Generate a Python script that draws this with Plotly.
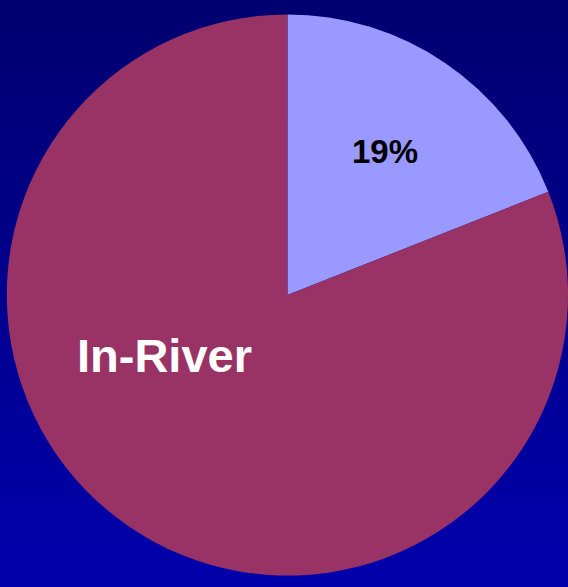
import plotly.graph_objects as go

# Data
slice_labels = ["Other", "In-River"]
slice_values = [19, 81]
slice_colors = ["#9999FF", "#993366"]

total = sum(slice_values)
pct_text = f"{round(100 * slice_values[0] / total)}%"

fig = go.Figure()

fig.add_trace(go.Pie(
    labels=slice_labels,
    values=slice_values,
    sort=False,
    direction="clockwise",
    rotation=0,
    marker=dict(colors=slice_colors, line=dict(width=0)),
    textinfo="none",
    hoverinfo="label+percent",
    showlegend=False,
    domain=dict(x=[0.012, 1.0], y=[0.0188, 0.976]),
))

# Vertical gradient background
shapes = []
n = 120
top = (0, 0, 112)
bot = (0, 0, 172)
for i in range(n):
    t = i / (n - 1)
    r = round(top[0] + (bot[0] - top[0]) * t)
    g = round(top[1] + (bot[1] - top[1]) * t)
    b = round(top[2] + (bot[2] - top[2]) * t)
    y1 = 1 - i / n
    y0 = 1 - (i + 1) / n
    shapes.append(dict(type="rect", xref="paper", yref="paper",
                       x0=0, x1=1, y0=y0 - 0.001, y1=y1,
                       fillcolor=f"rgb({r},{g},{b})",
                       line=dict(width=0), layer="below"))

fig.update_layout(
    width=568, height=587,
    margin=dict(l=0, r=0, t=0, b=0),
    paper_bgcolor="#000080",
    plot_bgcolor="rgba(0,0,0,0)",
    shapes=shapes,
    annotations=[
        dict(text=pct_text, x=384.5 / 568, y=1 - 151 / 587,
             xref="paper", yref="paper", showarrow=False,
             xanchor="center", yanchor="middle",
             font=dict(family="Liberation Sans, Arial, sans-serif", size=33,
                       color="black", weight="bold")),
        dict(text=slice_labels[1], x=164 / 568, y=1 - 355 / 587,
             xref="paper", yref="paper", showarrow=False,
             xanchor="center", yanchor="middle",
             font=dict(family="Liberation Sans, Arial, sans-serif", size=47,
                       color="white", weight="bold")),
    ],
)

fig.write_html(
    "out.html",
    config={"displayModeBar": False},
    post_script="document.body.style.margin='0';document.body.style.padding='0';"
                "document.body.style.overflow='hidden';"
                "document.body.style.background='#000080';",
)
